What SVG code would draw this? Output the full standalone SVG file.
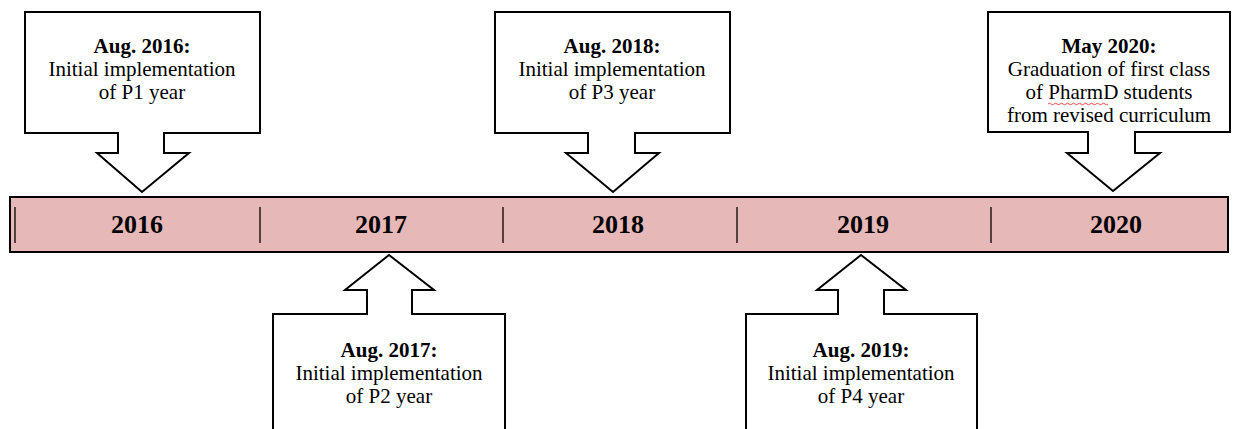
<svg xmlns="http://www.w3.org/2000/svg" width="1239" height="429" viewBox="0 0 1239 429">
<style>
.callout{fill:#fff;stroke:#000;stroke-width:2;stroke-linejoin:miter}
.bar{fill:#e6b8b7;stroke:#000;stroke-width:2}
.div{stroke:#000;stroke-width:1.3}
.t{font-family:"Liberation Serif","Times New Roman",serif;font-size:21px;fill:#000;text-anchor:middle}
.b{font-weight:bold}
.yr{font-family:"Liberation Serif","Times New Roman",serif;font-size:26px;font-weight:bold;fill:#000;text-anchor:middle}
</style>
<rect width="1239" height="429" fill="#fff"/>
<g id="timeline">
<rect class="bar" x="10" y="197" width="1218" height="55"/>
<line class="div" x1="15" y1="207" x2="15" y2="243"/>
<line class="div" x1="260" y1="207" x2="260" y2="243"/>
<line class="div" x1="503" y1="207" x2="503" y2="243"/>
<line class="div" x1="737" y1="207" x2="737" y2="243"/>
<line class="div" x1="991" y1="207" x2="991" y2="243"/>
<text class="yr" x="137" y="233">2016</text>
<text class="yr" x="381" y="233">2017</text>
<text class="yr" x="618" y="233">2018</text>
<text class="yr" x="863" y="233">2019</text>
<text class="yr" x="1116" y="233">2020</text>
</g>
<g id="callout-2016">
<path class="callout" d="M25,12 H260 V133 H164 V153 H189 L142,192 L97,153 H118 V133 H25 Z"/>
<text class="t" x="142" y="53"><tspan class="b">Aug. 2016:</tspan><tspan x="142" dy="23">Initial implementation</tspan><tspan x="142" dy="23">of P1 year</tspan></text>
</g>
<g id="callout-2018">
<path class="callout" d="M495,12 H730 V133 H635 V153 H659 L613,192 L566,153 H588 V133 H495 Z"/>
<text class="t" x="612" y="53"><tspan class="b">Aug. 2018:</tspan><tspan x="612" dy="23">Initial implementation</tspan><tspan x="612" dy="23">of P3 year</tspan></text>
</g>
<g id="callout-2020">
<path class="callout" d="M988,12 H1230 V132 H1135 V153 H1160 L1113,191 L1067,153 H1088 V132 H988 Z"/>
<text class="t" x="1109" y="53"><tspan class="b">May 2020:</tspan><tspan x="1109" dy="23">Graduation of first class</tspan><tspan x="1109" dy="23">of PharmD students</tspan><tspan x="1109" dy="23">from revised curriculum</tspan></text>
<path d="M1048,104 q1.5,-1.5 3,0 t3,0 t3,0 t3,0 t3,0 t3,0 t3,0 t3,0 t3,0 t3,0 t3,0 t3,0 t3,0 t3,0 t3,0 t3,0 t3,0 t3,0 t3,0 t3,0" fill="none" stroke="#e02020" stroke-width="0.8"/>
</g>
<g id="callout-2017">
<path class="callout" d="M273,440 V314 H367 V290 H345 L389,255 L434,290 H412 V314 H505 V440"/>
<text class="t" x="389" y="357"><tspan class="b">Aug. 2017:</tspan><tspan x="389" dy="23">Initial implementation</tspan><tspan x="389" dy="23">of P2 year</tspan></text>
</g>
<g id="callout-2019">
<path class="callout" d="M746,440 V314 H838 V290 H817 L861,255 L906,290 H884 V314 H977 V440"/>
<text class="t" x="861" y="357"><tspan class="b">Aug. 2019:</tspan><tspan x="861" dy="23">Initial implementation</tspan><tspan x="861" dy="23">of P4 year</tspan></text>
</g>
</svg>
